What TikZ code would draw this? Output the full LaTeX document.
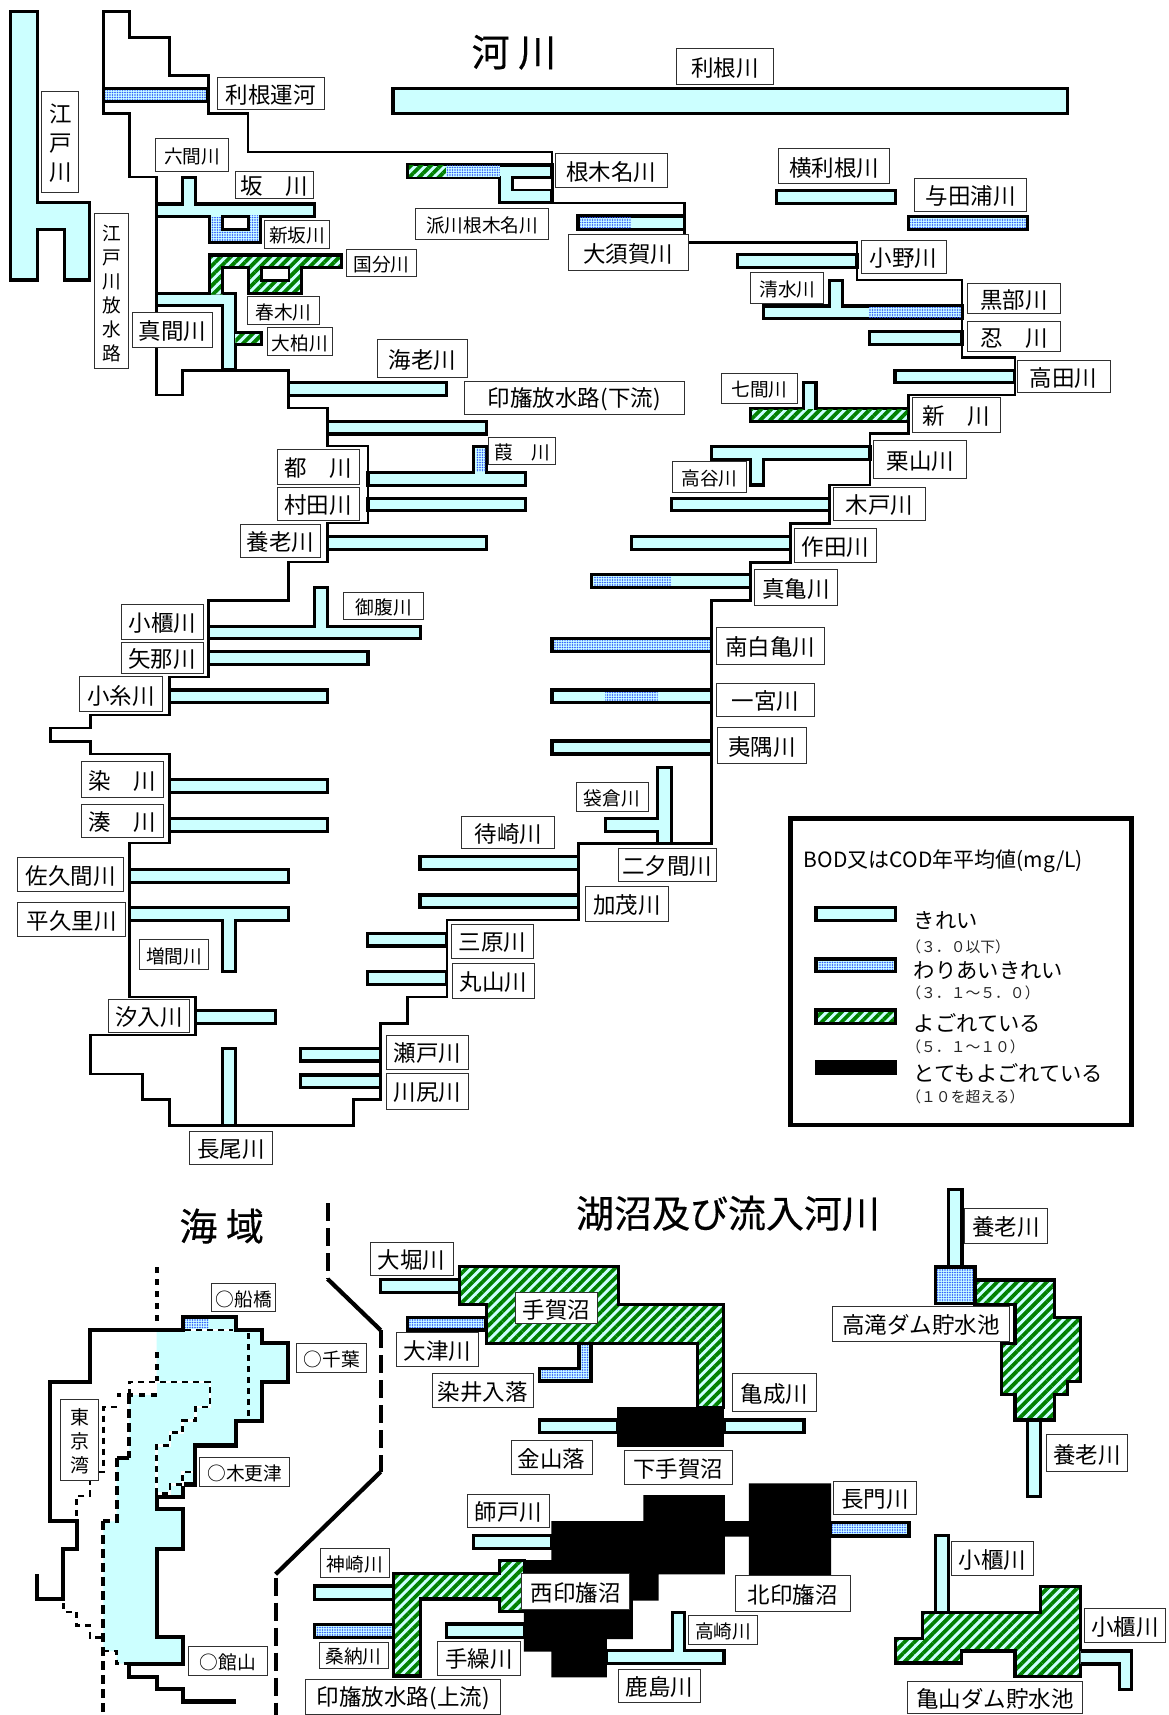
\documentclass[tikz,border=0pt]{standalone}
\usepackage{fontspec}
\usetikzlibrary{fit,patterns.meta}
\newfontfamily\cjk{Noto Sans CJK JP}
\newfontfamily\cjkt[FakeBold=0.4]{Noto Sans CJK JP}
\definecolor{cy}{HTML}{CCFFFF}
\definecolor{gr}{HTML}{008000}
\definecolor{dotb}{HTML}{2F55FF}
\definecolor{labc}{HTML}{303030}
\newcounter{lbn}
\tikzset{
 riv/.style={draw=black,line width=3.1pt,fill=cy,line join=miter},
 oline/.style={draw=black,line width=2.9pt,line join=miter},
 dotf/.style={preaction={fill=cy},pattern={Dots[distance=2.5pt,radius=0.88pt]},pattern color=dotb},
 hatchf/.style={preaction={fill=cy},pattern={Lines[angle=45,distance=7pt,line width=3.8pt]},pattern color=gr},
 dotr/.style={dotf,draw=black,line width=3.1pt,line join=miter},
 hatr/.style={hatchf,draw=black,line width=3.1pt,line join=miter},
 labbox/.style={draw=labc,line width=1pt,fill=white,inner sep=0pt},
 ltxt/.style={font=\cjk\fontsize{22.5}{24}\selectfont,inner sep=0pt,align=center,yshift=-1.5pt},
 sm/.style={font=\cjk\fontsize{18.7}{20}\selectfont},
 ttl/.style={font=\cjkt\fontsize{38}{40}\selectfont,inner sep=0pt},
 thk/.style={draw=black,line width=4.2pt,line join=miter},
 sdash/.style={draw=black,line width=4.2pt,dash pattern=on 18pt off 7pt},
 ddot/.style={draw=black,line width=4.2pt,dash pattern=on 6pt off 6pt},
 tdot/.style={draw=black,line width=2.4pt,dash pattern=on 6pt off 5pt},
 za/.style={x=0.37244pt,y=-0.33333pt},
 zb/.style={x=0.33333pt,y=-0.34131pt},
 zc/.style={x=0.33333pt,y=-0.33333pt},
 zd/.style={x=0.3827pt,y=-0.33333pt}
}
\newcommand\lb[6][]{\stepcounter{lbn}\node[labbox,fit={(#2,#3)(#4,#5)}] (lb\arabic{lbn}) {};\node[ltxt,#1] at (lb\arabic{lbn}.center) {#6};}
\begin{document}
\begin{tikzpicture}[x=1pt,y=-1pt]
\useasboundingbox (0,0) rectangle (1168,1715);
\fill[white] (0,0) rectangle (1168,1715);
% main outline
\draw[oline] (103.5,11.7)--(129.6,11.7)--(129.6,37.3)--(169.5,37.3)--(169.5,75.3)--(208.6,75.3)--(208.6,113.3)--(248,113.3)--(248,152)--(552,152)--(552,203)--(684.6,203)--(684.6,242.3)--(857,242.3)--(857,280)--(962,280)--(962,357.3)--(1015,357.3)--(1015,395)--(908.8,395)--(908.8,433.3)--(870,433.3)--(870,485)--(829.8,485)--(829.8,523.3)--(790.7,523.3)--(790.7,562.3)--(750.5,562.3)--(750.5,600.7)--(711.4,600.7)--(711.4,843.3)--(578.4,843.3)--(578.4,920)--(447,920)--(447,997)--(407.8,997)--(407.8,1023.3)--(380.6,1023.3)--(380.6,1099.3)--(353.8,1099.3)--(353.8,1125.7)--(169.5,1125.7)--(169.5,1099.3)--(142.6,1099.3)--(142.6,1074)--(90.5,1074)--(90.5,1035)--(195.5,1035)--(195.5,997)--(129.6,997)--(129.6,843)--(169.5,843)--(169.5,754)--(90.5,754)--(90.5,741.7)--(50.3,741.7)--(50.3,728)--(90.5,728)--(90.5,715)--(169.5,715)--(169.5,677)--(208.6,677)--(208.6,600.7)--(288.6,600.7)--(288.6,562)--(327.7,562)--(327.7,523)--(368,523)--(368,446)--(327.7,446)--(327.7,408)--(288.6,408)--(288.6,370.7)--(182.5,370.7)--(182.5,395)--(156.4,395)--(156.4,177)--(129.6,177)--(129.6,113.3)--(103.5,113.3)--cycle;
% cross-zoom rivers
\draw[riv] (393,88.3) rectangle (1067.4,113.3);
\draw[riv] (327.7,421.7) rectangle (486.8,434);
\draw[riv] (578,216) rectangle (684.6,229.7);
\path[dotf] (580,217.5) rectangle (630.5,228.2);
\draw[dotr] (552,638.3) rectangle (711.4,651.7);
\draw[riv] (552,690) rectangle (711.4,702.7);
\path[dotf] (605.2,692) rectangle (657.7,701);
\draw[riv] (552,741) rectangle (711.4,754);
\draw[riv] (420,856.7) rectangle (578.4,869.3);
\draw[riv] (420,895) rectangle (578.4,907.7);
\begin{scope}[za]
% zoom 1
\draw[riv] (28,35)--(100,35)--(100,608)--(240,608)--(240,840)--(172,840)--(172,688)--(100,688)--(100,840)--(28,840)--cycle;
\draw[dotr] (278,265) rectangle (558,305);
\draw[riv] (420,612)--(490,612)--(490,532)--(524,532)--(524,612)--(845,612)--(845,650)--(700,650)--(700,727)--(562,727)--(562,650)--(420,650)--cycle;
\path[dotf] (566,653) rectangle (696,723);
\path[dotf] (668,648) rectangle (696,653);
\draw[oline,fill=white] (597,650) rectangle (667,688);
\draw[riv] (420,880)--(632,880)--(632,1110)--(597,1110)--(597,917)--(420,917)--cycle;
\path[hatchf] (565,765)--(917,765)--(917,803)--(810,803)--(810,880)--(667,880)--(667,803)--(597,803)--(597,884)--(565,884)--cycle;
\draw[oline,line width=3.1pt] (562,884)--(562,765)--(917,765)--(917,803)--(810,803)--(810,880)--(667,880)--(667,803)--(597,803)--(597,882);
\draw[oline,fill=white] (703,803) rectangle (776,841);
\path[hatchf] (632,998) rectangle (703,1033);
\draw[oline,line width=3.1pt] (632,998)--(703,998)--(703,1033)--(632,1033);
\draw[riv] (775,1148) rectangle (1198,1186);
% negishi
\draw[riv] (1095,495)--(1482,495)--(1482,608)--(1342,608)--(1342,533)--(1095,533)--cycle;
\path[hatchf] (1098,498) rectangle (1198,530);
\path[dotf] (1198,498) rectangle (1342,530);
\draw[oline,fill=white] (1376,533) rectangle (1482,570);
\lb[sm]{418}{415}{614}{514}{六間川}
\lb{632}{515}{842}{595}{坂　川}
\lb[sm]{710}{662}{886}{745}{新坂川}
\lb[sm]{931}{748}{1118}{830}{国分川}
\lb[sm]{665}{890}{858}{975}{春木川}
\lb[sm]{718}{983}{893}{1068}{大柏川}
\lb{585}{232}{870}{330}{利根運河}
\lb{112}{275}{212}{577}{江\\[5pt]戸\\[5pt]川}
\lb[sm]{255}{642}{345}{1107}{江\\[4pt]戸\\[4pt]川\\[4pt]放\\[4pt]水\\[4pt]路}
\lb{356}{937}{570}{1043}{真間川}
\lb{1014}{1018}{1255}{1132}{海老川}
\lb[sm]{1116}{625}{1473}{718}{派川根木名川}
\node[ttl] (titleR) at (1380,157) {河 川};
\end{scope}
\lb{555}{154}{667.4}{188}{根木名川}
\lb{568}{234}{688}{270.7}{大須賀川}
\lb{464}{381}{684.6}{414}{印旛放水路(下流)}
\begin{scope}[shift={(584,0)},za]
\draw[riv] (517,572) rectangle (836,610);
\draw[dotr] (872,650) rectangle (1190,688);
\draw[riv] (412,763) rectangle (733,802);
\draw[riv] (482,918)--(660,918)--(660,842)--(693,842)--(693,918)--(1015,918)--(1015,955)--(482,955)--cycle;
\path[dotf] (765,922) rectangle (1012,952);
\draw[riv] (767,995) rectangle (1015,1033);
\draw[riv] (835,1112) rectangle (1157,1148);
\draw[riv] (447,1225)--(590,1225)--(590,1148)--(623,1148)--(623,1225)--(870,1225)--(870,1263)--(447,1263)--cycle;
\path[hatchf] (450,1229) rectangle (868,1260);
\lb{248}{147}{508}{253}{利根川}
\lb{522}{445}{821}{552}{横利根川}
\lb{887}{535}{1189}{634}{与田浦川}
\lb{745}{722}{972}{821}{小野川}
\lb[sm]{448}{817}{644}{912}{清水川}
\lb{1029}{851}{1279}{941}{黒部川}
\lb{1029}{966}{1279}{1055}{忍　川}
\lb{1163}{1081}{1413}{1179}{高田川}
\lb[sm]{369}{1120}{573}{1210}{七間川}
\lb{883}{1192}{1117}{1298}{新　川}
\end{scope}
\begin{scope}[shift={(0,430)},za]
\draw[riv] (988,128)--(1272,128)--(1272,50)--(1307,50)--(1307,128)--(1411,128)--(1411,166)--(988,166)--cycle;
\path[dotf] (1278,55) rectangle (1303,125);
\draw[riv] (988,205) rectangle (1411,242);
\draw[riv] (880,320) rectangle (1307,358);
\draw[riv] (560,590)--(845,590)--(845,472)--(880,472)--(880,590)--(1130,590)--(1130,625)--(560,625)--cycle;
\draw[riv] (560,665) rectangle (988,703);
\draw[riv] (455,780) rectangle (880,818);
\draw[riv] (455,1048) rectangle (880,1087);
\draw[riv] (455,1165) rectangle (880,1204);
\lb{744}{57}{964}{162}{都　川}
\lb{744}{172}{964}{270}{村田川}
\lb{645}{283}{860}{381}{養老川}
\lb[sm]{1312}{21}{1492}{103}{葭　川}
\lb{327}{522}{546}{628}{小櫃川}
\lb[sm]{923}{487}{1138}{568}{御腹川}
\lb{325}{637}{546}{730}{矢那川}
\lb{214}{739}{436}{845}{小糸川}
\lb{218}{995}{438}{1102}{染　川}
\lb{218}{1123}{438}{1222}{湊　川}
\lb{1240}{1158}{1490}{1255}{待崎川}
\end{scope}
\begin{scope}[shift={(584,430)},za]
\draw[riv] (342,50)--(768,50)--(768,88)--(482,88)--(482,165)--(448,165)--(448,88)--(342,88)--cycle;
\draw[riv] (235,205) rectangle (660,242);
\draw[riv] (128,320) rectangle (555,358);
\draw[riv] (20,433) rectangle (447,472);
\path[dotf] (25,438) rectangle (233,468);
\draw[riv] (197,1012)--(235,1012)--(235,1240)--(197,1240)--(197,1205)--(58,1205)--(58,1165)--(197,1165)--cycle;
\lb{778}{30}{1028}{146}{栗山川}
\lb[sm]{238}{93}{436}{188}{高谷川}
\lb{670}{172}{917}{270}{木戸川}
\lb{565}{295}{786}{398}{作田川}
\lb{458}{419}{680}{525}{真亀川}
\lb{356}{593}{645}{702}{南白亀川}
\lb{356}{760}{618}{858}{一宮川}
\lb{359}{892}{598}{1000}{夷隅川}
\end{scope}
\lb[sm]{576}{782.7}{648}{811.7}{袋倉川}
\begin{scope}[shift={(584,780)},za]
\lb{92}{205}{356}{303}{二夕間川}
\lb{5}{320}{226}{424}{加茂川}
% legend
\draw[draw=black,line width=4.6pt] (555,115) rectangle (1470,1035);
\node[ltxt,anchor=west,font=\cjk\fontsize{21}{24}\selectfont] (legT) at (590,238) {BOD又はCOD年平均値(mg/L)};
\draw[riv] (623,382) rectangle (837,422);
\draw[dotr] (623,537) rectangle (837,575);
\draw[hatr] (623,690) rectangle (837,730);
\fill[black] (621,841) rectangle (840,886);
\tikzset{lg/.style={ltxt,anchor=west,font=\cjk\fontsize{21.3}{22}\selectfont},lh/.style={ltxt,anchor=west,font=\cjk\fontsize{14.8}{16}\selectfont,text=black!85}}
\node[lg] (l1) at (885,418) {きれい};
\node[lh] (l1b) at (865,495) {（３．０以下）};
\node[lg] (l2) at (885,567) {わりあいきれい};
\node[lh] (l2b) at (865,635) {（３．１～５．０）};
\node[lg] (l3) at (885,725) {よごれている};
\node[lh] (l3b) at (865,795) {（５．１～１０）};
\node[lg] (l4) at (885,875) {とてもよごれている};
\node[lh] (l4b) at (865,947) {（１０を超える）};
\end{scope}
\begin{scope}[shift={(0,860)},za]
\draw[riv] (348,28) rectangle (775,67);
\draw[riv] (348,143)--(775,143)--(775,181)--(632,181)--(632,335)--(597,335)--(597,181)--(348,181)--cycle;
\draw[riv] (525,452) rectangle (740,490);
\draw[riv] (597,565) rectangle (632,797);
\draw[riv] (987,220) rectangle (1200,258);
\draw[riv] (987,335) rectangle (1200,373);
\draw[riv] (808,565) rectangle (1022,603);
\draw[riv] (808,645) rectangle (1022,683);
\lb{48}{-9}{332}{94}{佐久間川}
\lb{48}{128}{336}{230}{平久里川}
\lb[sm]{374}{238}{561}{329}{増間川}
\lb{290}{418}{510}{516}{汐入川}
\lb{510}{815}{731}{913}{長尾川}
\lb{1212}{192}{1432}{295}{三原川}
\lb{1215}{311}{1436}{414}{丸山川}
\lb{1038}{525}{1258}{627}{瀬戸川}
\lb{1038}{640}{1258}{747}{川尻川}
\end{scope}
% sea
\begin{scope}[shift={(0,1180)},zb]
\fill[cy] (548,402)--(708,402)--(708,440)--(785,440)--(785,478)--(865,478)--(865,592)--(785,592)--(785,705)--(708,705)--(708,778)--(586,778)--(586,892)--(548,892)--(548,928)--(470,928)--(470,965)--(548,965)--(548,1080)--(470,1080)--(470,1340)--(548,1340)--(548,1417)--(350,1417)--(350,1380)--(310,1380)--(310,1000)--(350,1000)--(350,815)--(388,815)--(388,630)--(470,630)--(470,440)--(548,440)--cycle;
\path[dotf] (555,408) rectangle (625,436);
% white cut
\fill[white] (388,592)--(470,592)--(470,630)--(388,630)--cycle;
\draw[thk] (112,1155)--(112,1228)--(190,1228)--(190,1080)--(230,1080)--(230,1000)--(150,1000)--(150,592)--(270,592)--(270,440)--(548,440)--(548,402)--(708,402)--(708,440)--(785,440)--(785,478)--(865,478)--(865,592)--(785,592)--(785,705)--(708,705)--(708,778)--(586,778)--(586,892)--(548,892)--(548,928)--(470,928)--(470,965)--(548,965)--(548,1080)--(470,1080)--(470,1340)--(548,1340)--(548,1417)--(388,1417)--(388,1455)--(470,1455)--(470,1492)--(548,1492)--(548,1528)--(708,1528);
\draw[ddot] (470,255)--(470,420);
\draw[ddot] (470,505)--(470,592);
\draw[ddot] (470,630)--(350,630);
\draw[sdash,dash pattern=on 9pt off 5pt] (388,630)--(388,815);
\draw[thk] (388,815)--(350,815);
\draw[sdash,dash pattern=on 9pt off 5pt] (350,815)--(350,1000)--(310,1000);
\draw[sdash,dash pattern=on 9pt off 5pt] (310,1000)--(310,1568);
\draw[white,line width=2.4pt] (388,630)--(388,592)--(630,592)--(630,665)--(586,665)--(586,705)--(548,705)--(548,740)--(510,740)--(510,778)--(470,778)--(470,918)--(510,918)--(510,892)--(548,892)--(548,855)--(580,855);
\draw[tdot] (388,630)--(388,592)--(630,592)--(630,665)--(586,665)--(586,705)--(548,705)--(548,740)--(510,740)--(510,778)--(470,778)--(470,918)--(510,918)--(510,892)--(548,892)--(548,855)--(580,855);
\draw[white,line width=2.4pt] (555,440)--(700,440);
\draw[tdot] (555,440)--(700,440);
\draw[tdot] (745,448)--(745,700);
\draw[tdot] (350,665)--(310,665)--(310,855)--(270,855)--(270,925)--(230,925)--(230,985);
\draw[tdot] (190,1240)--(190,1265)--(230,1265)--(230,1305)--(270,1305)--(270,1340)--(310,1340);
\draw[tdot] (310,1380)--(350,1380)--(350,1417)--(388,1417);
\draw[sdash] (983,68)--(983,290);
\draw[thk] (983,290)--(1142,440);
\draw[sdash] (1142,440)--(1142,855);
\draw[thk] (1142,855)--(827,1155);
\draw[sdash] (827,1165)--(827,1568);
\node[ttl] (titleS) at (665,135) {海 域};
\lb[sm,font=\cjk\fontsize{19}{24}\selectfont]{183}{642}{295}{880}{東\\京\\湾}
\lb[sm]{635}{304}{827}{384}{○船橋}
\lb[sm]{890}{478}{1100}{565}{○千葉}
\lb[sm]{600}{812}{870}{897}{○木更津}
\lb[sm]{565}{1368}{802}{1452}{○館山}
\end{scope}
% lakes top
\begin{scope}[shift={(360,1180)},zc]
\draw[riv] (62,298) rectangle (298,338);
\draw[dotr] (142,413) rectangle (378,450);
\draw[dotr] (657,490)--(693,490)--(693,603)--(538,603)--(538,565)--(657,565)--cycle;
\draw[riv] (538,720) rectangle (772,758);
\draw[riv] (1093,720) rectangle (1332,758);
\draw[hatr] (298,260)--(776,260)--(776,373)--(1090,373)--(1090,682)--(1013,682)--(1013,490)--(380,490)--(380,373)--(298,373)--cycle;
\fill[black] (772,680) rectangle (1093,800);
\lb{30}{187}{280}{287}{大堀川}
\lb{467}{338}{713}{430}{手賀沼}
\lb{110}{457}{356}{560}{大津川}
\lb{217}{581}{520}{683}{染井入落}
\lb{1118}{580}{1368}{695}{亀成川}
\lb{453}{781}{696}{884}{金山落}
\lb{792}{810}{1118}{912}{下手賀沼}
\node[ttl] (titleL) at (1104,100) {湖沼及び流入河川};
\end{scope}
\begin{scope}[shift={(300,1460)},zd]
\draw[riv] (453,226) rectangle (657,265);
\draw[riv] (383,492) rectangle (587,532);
\draw[riv] (800,572)--(973,572)--(973,458)--(1005,458)--(1005,572)--(1108,572)--(1108,610)--(800,610)--cycle;
\draw[riv] (38,378) rectangle (245,418);
\draw[dotr] (38,493) rectangle (245,533);
\fill[black] (657,183)--(897,183)--(897,105)--(1110,105)--(1110,183)--(1173,183)--(1173,70)--(1388,70)--(1388,345)--(1173,345)--(1173,230)--(1110,230)--(1110,343)--(937,343)--(937,422)--(870,422)--(870,537)--(802,537)--(802,652)--(657,652)--(657,575)--(585,575)--(585,300)--(657,300)--cycle;
\draw[hatr] (245,340)--(522,340)--(522,302)--(587,302)--(587,455)--(522,455)--(522,417)--(315,417)--(315,648)--(245,648)--cycle;
\lb{437}{103}{652}{202}{師戸川}
\lb{360}{543}{576}{645}{手繰川}
\lb{831}{628}{1047}{727}{鹿島川}
\lb[sm]{1016}{467}{1196}{552}{高崎川}
\lb{580}{340}{860}{448}{西印旛沼}
\lb{1138}{347}{1438}{453}{北印旛沼}
\lb[sm]{53}{266}{234}{351}{神崎川}
\lb[sm]{50}{547}{230}{625}{桑納川}
\lb{15}{658}{525}{763}{印旛放水路(上流)}
\end{scope}
\begin{scope}[shift={(800,1180)},zb]
\draw[riv] (446,28) rectangle (486,255);
\draw[dotr] (407,255) rectangle (525,362);
\draw[hatr] (525,293)--(763,293)--(763,403)--(842,403)--(842,590)--(803,590)--(803,628)--(763,628)--(763,703)--(645,703)--(645,628)--(605,628)--(605,480)--(645,480)--(645,365)--(525,365)--cycle;
\draw[riv] (682,703) rectangle (722,928);
\draw[riv] (406,1042) rectangle (446,1268);
\draw[hatr] (367,1268)--(722,1268)--(722,1192)--(842,1192)--(842,1455)--(645,1455)--(645,1380)--(485,1380)--(485,1415)--(287,1415)--(287,1342)--(367,1342)--cycle;
\draw[riv] (842,1380)--(995,1380)--(995,1493)--(958,1493)--(958,1418)--(842,1418);
\draw[dotr] (92,1003) rectangle (327,1043);
\lb{101}{883}{349}{980}{長門川}
\lb{493}{83}{742}{185}{養老川}
\lb{97}{370}{628}{472}{高滝ダム貯水池}
\lb{740}{746}{982}{855}{養老川}
\lb{455}{1058}{700}{1160}{小櫃川}
\lb{853}{1255}{1097}{1355}{小櫃川}
\lb{323}{1468}{846}{1563}{亀山ダム貯水池}
\end{scope}
\end{tikzpicture}
\end{document}
